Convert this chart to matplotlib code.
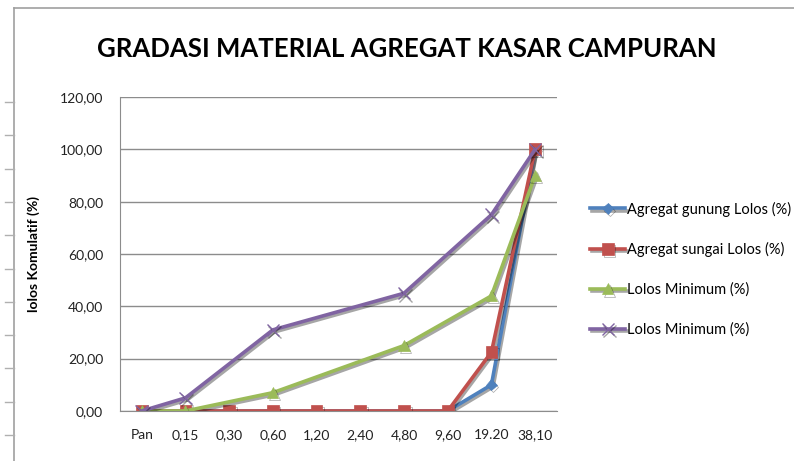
import matplotlib
matplotlib.use("Agg")
import matplotlib.pyplot as plt
import matplotlib.patheffects as pe
from matplotlib.lines import Line2D
from matplotlib import font_manager
import numpy as np

# data
saringan = ["Pan", "0,15", "0,30", "0,60", "1,20", "2,40", "4,80", "9,60", "19.20", "38,10"]
gunung = [0, 0, 0, 0, 0, 0, 0, 0, 10, 100]
sungai = [0, 0, 0, 0, 0, 0, 0, 0, 22.5, 100]
lolos_min = [0, 0, np.nan, 7, np.nan, np.nan, 25, np.nan, 44, 90]
lolos_max = [0, 5, np.nan, 31, np.nan, np.nan, 45, np.nan, 75, 100]
y_ticks = [0, 20, 40, 60, 80, 100, 120]

labels = ["Agregat gunung Lolos (%)", "Agregat sungai Lolos (%)",
          "Lolos Minimum (%)", "Lolos Minimum (%)"]
colors = ["#4F81BD", "#C0504D", "#9BBB59", "#8064A2"]
markers = ["D", "s", "^", "x"]
msizes = [5.5, 8.5, 8, 9]

plt.rcParams['font.family'] = ['Lato', 'DejaVu Sans']

fig = plt.figure(figsize=(7.94, 4.61), dpi=100, facecolor="white")
ax = fig.add_axes([0.151, 0.1085, 0.5505, 0.6811])

x = np.arange(len(saringan))
shadow = [pe.SimpleLineShadow(offset=(1.2, -1.5), alpha=0.35), pe.Normal()]
handles = []
for vals, c, m, ms, lab in zip([gunung, sungai, lolos_min, lolos_max],
                               colors, markers, msizes, labels):
    v = np.array(vals, dtype=float)
    ok = ~np.isnan(v)   # gaps are joined straight, like excel does
    mew = 1 if m == "x" else 0.5
    h, = ax.plot(x[ok], v[ok], color=c, lw=2.6, marker=m, ms=ms,
                 mec=c, mfc=c, mew=mew, label=lab, path_effects=shadow)
    handles.append(h)

ax.set_xlim(-0.5, len(saringan) - 0.5)
ax.set_ylim(0, 120)
ax.set_xticks(x)
ax.set_xticklabels(saringan)
ax.set_yticks(y_ticks)
ax.set_yticklabels([f"{t:.2f}".replace(".", ",") for t in y_ticks])
ax.tick_params(axis="both", length=0, labelsize=10, colors="#222222")
ax.tick_params(axis="x", pad=13)
ax.tick_params(axis="y", pad=12)
ax.yaxis.grid(True, color="#8C8C8C", lw=1)
ax.set_axisbelow(True)
for s in ["top", "right"]:
    ax.spines[s].set_visible(False)
ax.spines["left"].set_color("#8C8C8C")
ax.spines["bottom"].set_color("#8C8C8C")

ax.set_ylabel("lolos Komulatif (%)", fontsize=10, fontweight="bold", labelpad=14)

# narrow font for the title if one is around, else smaller Lato
names = {f.name for f in font_manager.fontManager.ttflist}
title_font = "Lato"
for cand in ["Liberation Sans Narrow", "DejaVu Sans Condensed"]:
    if cand in names:
        title_font = cand
        break
tsize = 18.5 if title_font == "Lato" else 22
fig.text(0.512, 0.893, "GRADASI MATERIAL AGREGAT KASAR CAMPURAN",
         ha="center", va="center", fontsize=tsize, fontweight="bold",
         family=title_font)

fig.legend(handles=handles, loc="center left", bbox_to_anchor=(0.727, 0.416),
           frameon=False, fontsize=10.5, labelspacing=1.75, handlelength=2.4,
           handletextpad=0.1)

# outer chart frame and page ruler marks
fig.add_artist(Line2D([0.0176, 0.0176], [0, 0.983], color="#A0A0A0", lw=1.2))
fig.add_artist(Line2D([0.0176, 1], [0.983, 0.983], color="#A0A0A0", lw=1.2))
for k in range(11):
    yy = 1 - (102 + 33.3 * k) / 461
    fig.add_artist(Line2D([0.006, 0.0176], [yy, yy], color="#B0B0B0", lw=1))

fig.savefig("out.png", dpi=100, facecolor="white")
